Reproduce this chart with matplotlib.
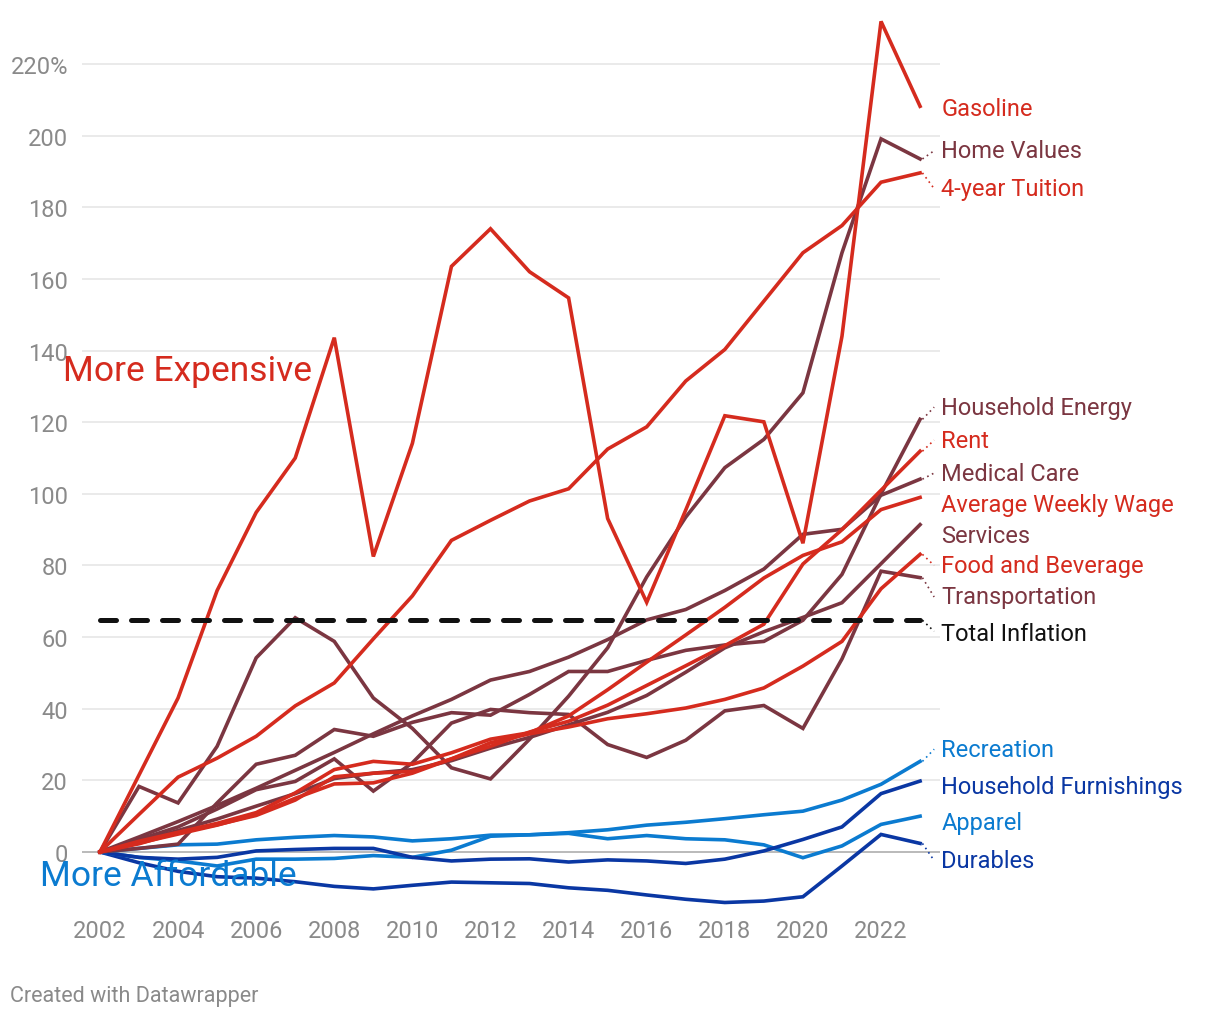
import matplotlib
matplotlib.use('Agg')
import matplotlib.pyplot as plt
from matplotlib.ticker import FixedLocator, FuncFormatter

plt.rcParams['font.family'] = ['Roboto', 'DejaVu Sans']

# ---- data (percent change since 2002) ----
years = list(range(2002, 2024))

gasoline = [0, 21.5, 43.0, 73.0, 94.8, 110.0, 143.6, 82.5, 114.1, 163.5, 174.0,
            162.0, 154.7, 93.1, 69.7, 95.5, 121.8, 120.1, 86.2, 144.0, 231.9, 208.2]
home_values = [0, 18.3, 13.7, 29.5, 54.2, 65.4, 58.8, 43.0, 34.5, 23.5, 20.4,
               31.5, 43.5, 57.0, 76.8, 93.5, 107.3, 115.2, 128.2, 167.3, 199.1, 193.5]
tuition = [0, 10.5, 20.9, 26.2, 32.3, 40.8, 47.2, 59.5, 71.5, 87.0, 92.6,
           98.0, 101.4, 112.5, 118.7, 131.5, 140.3, 153.8, 167.3, 174.9, 187.0, 189.6]
household_energy = [0, 1.0, 2.2, 13.7, 24.5, 27.0, 34.2, 32.3, 36.2, 38.9, 38.2,
                    44.0, 50.4, 50.4, 53.5, 56.3, 57.8, 58.8, 64.7, 77.5, 100.0, 120.8]
rent = [0, 2.5, 5.0, 7.5, 10.5, 15.0, 19.0, 19.3, 22.0, 26.0, 29.5,
        33.5, 36.5, 41.0, 46.5, 52.0, 57.6, 63.6, 80.4, 90.0, 101.0, 111.9]
medical_care = [0, 4.2, 8.5, 13.0, 17.8, 22.8, 27.8, 33.0, 38.0, 42.6, 48.0,
                50.4, 54.4, 59.3, 64.8, 67.7, 73.0, 79.0, 88.7, 90.1, 99.6, 104.1]
weekly_wage = [0, 3.0, 5.5, 8.0, 11.0, 16.5, 23.0, 25.3, 24.5, 27.7, 31.5,
               33.3, 38.0, 45.3, 53.0, 60.6, 68.3, 76.5, 82.8, 86.6, 95.6, 99.0]
services = [0, 3.0, 6.0, 9.2, 12.8, 16.3, 20.5, 22.0, 23.0, 25.5, 29.0,
            32.0, 35.5, 39.0, 43.7, 50.2, 57.0, 61.5, 65.5, 69.6, 80.5, 91.4]
food_beverage = [0, 2.3, 5.4, 7.6, 10.2, 14.5, 21.0, 22.0, 22.5, 26.0, 30.5,
                 33.0, 34.9, 37.2, 38.6, 40.2, 42.6, 45.8, 51.9, 58.8, 73.5, 83.1]
transportation = [0, 3.5, 7.0, 12.0, 17.4, 19.7, 26.0, 17.0, 24.9, 36.0, 39.8,
                  38.9, 38.4, 30.0, 26.4, 31.2, 39.4, 40.9, 34.5, 53.9, 78.4, 76.6]
total_inflation = 64.7
recreation = [0, 1.0, 2.0, 2.2, 3.4, 4.1, 4.6, 4.2, 3.1, 3.7, 4.7,
              4.8, 5.4, 6.2, 7.5, 8.3, 9.3, 10.4, 11.4, 14.5, 18.9, 25.3]
furnishings = [0, -1.5, -2.0, -1.5, 0.3, 0.7, 1.0, 1.0, -1.5, -2.5, -2.0,
               -1.9, -2.8, -2.2, -2.5, -3.2, -2.0, 0.3, 3.5, 7.0, 16.3, 19.8]
apparel = [0, -1.5, -2.5, -3.9, -2.0, -2.0, -1.8, -1.0, -1.5, 0.5, 4.4,
           4.8, 5.2, 3.7, 4.6, 3.7, 3.4, 2.0, -1.6, 1.7, 7.7, 10.0]
durables = [0, -3.0, -5.4, -6.9, -7.3, -8.3, -9.6, -10.3, -9.3, -8.4, -8.6,
            -8.8, -10.0, -10.7, -12.0, -13.2, -14.1, -13.7, -12.5, -3.9, 4.9, 2.4]

RED = '#d52b1e'
MAROON = '#7b3641'
LBLUE = '#0b7bd0'
DBLUE = '#0a37a3'

# name, values, colour, label y (layout), leader line?
series = [
    ('Durables', durables, DBLUE, -2.4, True),
    ('Apparel', apparel, LBLUE, 8.1, False),
    ('Household Furnishings', furnishings, DBLUE, 18.4, False),
    ('Recreation', recreation, LBLUE, 28.7, True),
    ('Transportation', transportation, MAROON, 71.2, True),
    ('Services', services, MAROON, 88.3, False),
    ('Medical Care', medical_care, MAROON, 105.8, True),
    ('Household Energy', household_energy, MAROON, 124.2, True),
    ('Home Values', home_values, MAROON, 195.8, True),
    ('Food and Beverage', food_beverage, RED, 80.0, True),
    ('Average Weekly Wage', weekly_wage, RED, 97.0, False),
    ('Rent', rent, RED, 115.0, True),
    ('4-year Tuition', tuition, RED, 185.2, True),
    ('Gasoline', gasoline, RED, 207.5, False),
]

fig = plt.figure(figsize=(12.2, 10.2), dpi=100)
ax = fig.add_axes([82 / 1220, 1 - 910.3 / 1020, 858 / 1220, 899 / 1020])
ax.set_xlim(2001.54, 2023.51)
ax.set_ylim(-16, 235)

for s in ax.spines.values():
    s.set_visible(False)

ax.yaxis.set_major_locator(FixedLocator(list(range(0, 221, 20))))
ax.yaxis.set_major_formatter(FuncFormatter(lambda v, p: f'{v:.0f}%' if v == 220 else f'{v:.0f}'))
ax.xaxis.set_major_locator(FixedLocator(list(range(2002, 2023, 2))))
ax.tick_params(axis='both', length=0, labelsize=17, labelcolor='#8a8a8a')
ax.tick_params(axis='y', pad=10)
ax.tick_params(axis='x', pad=7)
ax.grid(axis='y', color='#e4e4e4', lw=1.1, zorder=0)
ax.axhline(0, color='#111111', lw=1.2, zorder=1)

lx = 2023.54
for name, vals, col, ly, leader in series:
    ax.plot(years, vals, color=col, lw=2.6, solid_joinstyle='miter', zorder=3)
    if leader:
        ax.plot([2023.06, 2023.36], [vals[-1], ly], color=col, lw=1.2,
                ls=(0, (1, 2.2)), zorder=3, clip_on=False)
    ax.text(lx, ly, name, color=col, fontsize=17, ha='left', va='center', clip_on=False)

# total inflation, cumulative since 2002
ax.plot([years[0], years[-1]], [total_inflation, total_inflation], color='#111111',
        lw=3.6, ls=(0, (3.2, 3.0)), dash_capstyle='round', zorder=4)
ax.plot([2023.06, 2023.36], [total_inflation, 61.6], color='#111111', lw=1.2,
        ls=(0, (1, 2.2)), zorder=3, clip_on=False)
ax.text(lx, 61.1, 'Total Inflation', color='#111111', fontsize=17, ha='left',
        va='center', clip_on=False)

fig.text(63 / 1220, 1 - 371 / 1020, 'More Expensive', color=RED, fontsize=25.5,
         ha='left', va='center')
fig.text(40 / 1220, 1 - 877 / 1020, 'More Affordable', color=LBLUE, fontsize=25.5,
         ha='left', va='center', zorder=10)
fig.text(10 / 1220, 1 - 997 / 1020, 'Created with Datawrapper', color='#8a8a8a',
         fontsize=15.5, ha='left', va='center')

fig.savefig('out.png', dpi=100)
